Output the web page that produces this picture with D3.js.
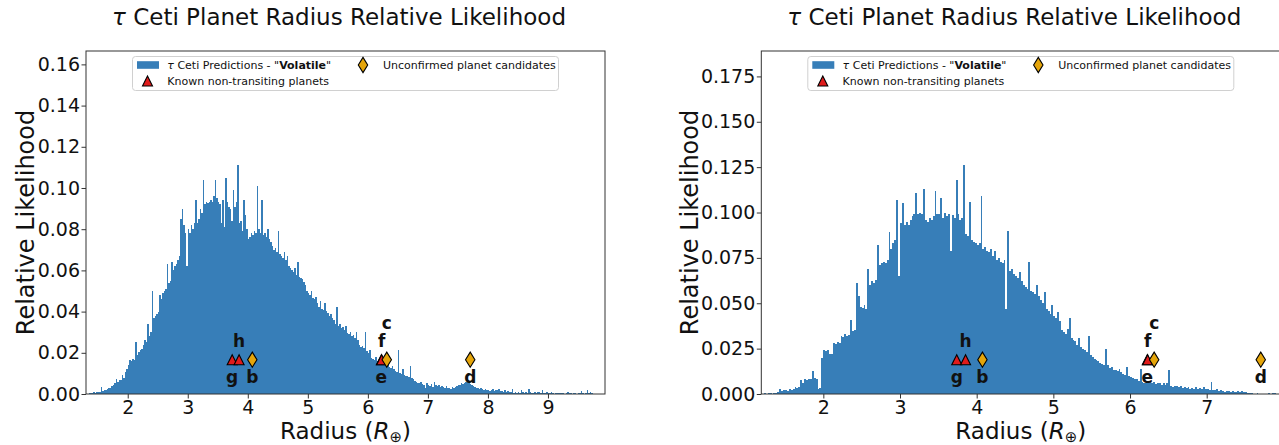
<!DOCTYPE html>
<html>
<head>
<meta charset="utf-8">
<script src="https://cdn.jsdelivr.net/npm/d3@7"></script>
<style>
  body { margin: 0; background: #fff; }
  svg { display: block; }
  text { font-family: "DejaVu Sans", sans-serif; fill: #111; }
</style>
</head>
<body>
<svg id="fig" width="1279" height="445"></svg>
<script>
// ---- histogram data: relative likelihood per radius bin ----
const binWidth = 0.025;

// left panel, first bin starts at R = 1.35
const leftBinStart = 1.35;
const leftLikelihood = [
  0.0004, 0.0006, 0.0003, 0.0008,  0.0007, 0.0010, 0.0009, 0.0012,
  0.0036, 0.0014, 0.0020, 0.0017,  0.0024, 0.0030, 0.0028, 0.0040,
  0.0044, 0.0052, 0.0073, 0.0058,  0.0066, 0.0070, 0.0092, 0.0079,
  0.0105, 0.0120, 0.0140, 0.0165,  0.0160, 0.0170, 0.0165, 0.0250,
  0.0190, 0.0205, 0.0215, 0.0220,  0.0240, 0.0260, 0.0250, 0.0340,
  0.0280, 0.0300, 0.0500, 0.0370,  0.0380, 0.0390, 0.0400, 0.0480,
  0.0460, 0.0490, 0.0500, 0.0510,  0.0630, 0.0540, 0.0550, 0.0640,
  0.0600, 0.0620, 0.0630, 0.0650,  0.0670, 0.0850, 0.0900, 0.0820,
  0.0780, 0.0620, 0.0800, 0.0780,  0.0820, 0.0800, 0.0830, 0.0940,
  0.0830, 0.0850, 0.0900, 0.0880,  0.1040, 0.0920, 0.0930, 0.0925,
  0.0930, 0.0940, 0.0930, 0.0960,  0.1040, 0.0950, 0.0930, 0.0920,
  0.0830, 0.0940, 0.0810, 0.1050,  0.0930, 0.0910, 0.0900, 0.0840,
  0.0990, 0.0910, 0.0930, 0.1110,  0.0830, 0.0840, 0.0790, 0.0940,
  0.0870, 0.0800, 0.0750, 0.0760,  0.0780, 0.0770, 0.0790, 0.0780,
  0.1010, 0.0800, 0.0780, 0.0940,  0.0770, 0.0780, 0.0760, 0.0800,
  0.0750, 0.0740, 0.0720, 0.0700,  0.0710, 0.0690, 0.0790, 0.0680,
  0.0670, 0.0660, 0.0690, 0.0650,  0.0670, 0.0620, 0.0610, 0.0600,
  0.0590, 0.0610, 0.0580, 0.0640,  0.0570, 0.0565, 0.0560, 0.0545,
  0.0530, 0.0500, 0.0490, 0.0480,  0.0500, 0.0465, 0.0460, 0.0470,
  0.0440, 0.0420, 0.0450, 0.0415,  0.0410, 0.0440, 0.0405, 0.0395,
  0.0380, 0.0390, 0.0370, 0.0360,  0.0340, 0.0420, 0.0330, 0.0340,
  0.0320, 0.0325, 0.0310, 0.0330,  0.0295, 0.0290, 0.0300, 0.0280,
  0.0285, 0.0270, 0.0300, 0.0260,  0.0240, 0.0230, 0.0235, 0.0225,
  0.0300, 0.0210, 0.0200, 0.0215,  0.0175, 0.0170, 0.0165, 0.0180,
  0.0160, 0.0155, 0.0150, 0.0158,  0.0150, 0.0145, 0.0140, 0.0152,
  0.0130, 0.0125, 0.0135, 0.0120,  0.0110, 0.0105, 0.0215, 0.0100,
  0.0095, 0.0120, 0.0090, 0.0088,  0.0085, 0.0082, 0.0135, 0.0078,
  0.0072, 0.0065, 0.0060, 0.0055,  0.0052, 0.0058, 0.0048, 0.0045,
  0.0030, 0.0055, 0.0045, 0.0040,  0.0048, 0.0035, 0.0060, 0.0042,
  0.0038, 0.0045, 0.0032, 0.0040,  0.0035, 0.0030, 0.0040, 0.0028,
  0.0030, 0.0025, 0.0032, 0.0028,  0.0035, 0.0040, 0.0045, 0.0042,
  0.0055, 0.0048, 0.0052, 0.0060,  0.0058, 0.0065, 0.0050, 0.0045,
  0.0040, 0.0035, 0.0028, 0.0030,  0.0025, 0.0030, 0.0022, 0.0020,
  0.0024, 0.0018, 0.0020, 0.0016,  0.0018, 0.0022, 0.0015, 0.0017,
  0.0020, 0.0024, 0.0014, 0.0016,  0.0012, 0.0018, 0.0010, 0.0013,
  0.0008, 0.0010, 0.0022, 0.0006,  0.0009, 0.0007, 0.0012, 0.0005,
  0.0020, 0.0008, 0.0004, 0.0010,  0.0006, 0.0024, 0.0009, 0.0005,
  0.0007, 0.0010, 0.0004, 0.0008,  0.0012, 0.0006, 0.0018, 0.0004,
  0.0005, 0.0009, 0.0003, 0.0006,  0.0008, 0.0004, 0.0002, 0.0007,
  0.0004, 0.0006, 0.0003, 0.0005,  0.0007, 0.0002, 0.0004, 0.0012,
  0.0003, 0.0005, 0.0002, 0.0004,  0.0003, 0.0002, 0.0004, 0.0003,
  0.0016, 0.0003, 0.0002, 0.0004,  0.0018, 0.0006, 0.0010, 0.0003
];

// right panel, first bin starts at R = 1.20
const rightBinStart = 1.20;
const rightLikelihood = [
  0.0000, 0.0004, 0.0000, 0.0003,  0.0006, 0.0002, 0.0005, 0.0008,
  0.0010, 0.0025, 0.0018, 0.0022,  0.0024, 0.0018, 0.0026, 0.0022,
  0.0030, 0.0040, 0.0033, 0.0038,  0.0075, 0.0060, 0.0085, 0.0078,
  0.0080, 0.0082, 0.0125, 0.0090,  0.0085, 0.0030, 0.0032, 0.0200,
  0.0245, 0.0235, 0.0240, 0.0220,  0.0222, 0.0280, 0.0275, 0.0285,
  0.0280, 0.0320, 0.0315, 0.0330,  0.0320, 0.0325, 0.0410, 0.0345,
  0.0350, 0.0610, 0.0540, 0.0480,  0.0475, 0.0490, 0.0470, 0.0690,
  0.0600, 0.0620, 0.0610, 0.0630,  0.0820, 0.0710, 0.0720, 0.0730,
  0.0720, 0.0740, 0.0890, 0.0800,  0.0830, 0.0850, 0.1070, 0.0650,
  0.0940, 0.1050, 0.0930, 0.0950,  0.0930, 0.0960, 0.0980, 0.0990,
  0.1110, 0.0990, 0.1000, 0.0990,  0.1130, 0.0960, 0.0950, 0.0970,
  0.0960, 0.0980, 0.1120, 0.0990,  0.0990, 0.1080, 0.0970, 0.1000,
  0.0980, 0.0990, 0.0790, 0.0985,  0.0970, 0.1180, 0.0990, 0.0960,
  0.0970, 0.1260, 0.0880, 0.0870,  0.1060, 0.0850, 0.0840, 0.0830,
  0.0820, 0.0830, 0.1090, 0.0800,  0.0810, 0.0790, 0.0780, 0.0800,
  0.0760, 0.0790, 0.0740, 0.0750,  0.0730, 0.0720, 0.0740, 0.0470,
  0.0900, 0.0680, 0.0690, 0.0660,  0.0650, 0.0640, 0.0670, 0.0620,
  0.0600, 0.0590, 0.0580, 0.0730,  0.0570, 0.0560, 0.0550, 0.0600,
  0.0540, 0.0520, 0.0500, 0.0560,  0.0470, 0.0460, 0.0440, 0.0490,
  0.0430, 0.0420, 0.0450, 0.0400,  0.0350, 0.0340, 0.0330, 0.0360,
  0.0420, 0.0310, 0.0300, 0.0290,  0.0270, 0.0310, 0.0260, 0.0250,
  0.0240, 0.0230, 0.0320, 0.0215,  0.0205, 0.0195, 0.0185, 0.0180,
  0.0170, 0.0165, 0.0160, 0.0250,  0.0160, 0.0145, 0.0150, 0.0135,
  0.0130, 0.0125, 0.0140, 0.0120,  0.0110, 0.0105, 0.0150, 0.0100,
  0.0095, 0.0090, 0.0085, 0.0080,  0.0070, 0.0140, 0.0065, 0.0060,
  0.0062, 0.0058, 0.0065, 0.0060,  0.0066, 0.0055, 0.0060, 0.0058,
  0.0052, 0.0060, 0.0050, 0.0058,  0.0134, 0.0045, 0.0040, 0.0046,
  0.0042, 0.0038, 0.0044, 0.0035,  0.0036, 0.0032, 0.0040, 0.0030,
  0.0034, 0.0030, 0.0038, 0.0028,  0.0032, 0.0026, 0.0036, 0.0030,
  0.0028, 0.0024, 0.0065, 0.0022,  0.0020, 0.0026, 0.0018, 0.0022,
  0.0016, 0.0012, 0.0018, 0.0014,  0.0012, 0.0015, 0.0010, 0.0013,
  0.0014, 0.0011, 0.0016, 0.0012,  0.0010, 0.0008, 0.0006, 0.0004,
  0.0002, 0.0000, 0.0003, 0.0001,  0.0000, 0.0000, 0.0002, 0.0000,
  0.0004, 0.0000, 0.0006, 0.0003
];

// axis limits and ticks
const leftXLimits = [1.305, 9.95];
const rightXLimits = [1.191, 7.960];
const leftXTicks = [2, 3, 4, 5, 6, 7, 8, 9];
const rightXTicks = [2, 3, 4, 5, 6, 7];
const leftYTicks = [0, 0.02, 0.04, 0.06, 0.08, 0.10, 0.12, 0.14, 0.16];
const rightYTicks = [0, 0.025, 0.05, 0.075, 0.10, 0.125, 0.15, 0.175];

// tau Ceti planets: radius, status and where the name goes
const planetNames  = ["g", "h", "b", "e", "f", "c", "d"];
const planetRadius = [3.74, 3.855, 4.075, 6.225, 6.23, 6.315, 7.705];
const planetStatus = ["known", "known", "candidate", "known", "known", "candidate", "candidate"];
const planetLabelSlot = [-1, 1, -1, -1, 1, 2, -1];   // -1 below, 1 above, 2 two lines above

const titleText = "Ceti Planet Radius Relative Likelihood";
const seriesColor = "#377eb8";
const knownColor = "#e01b1b";
const candidateColor = "#e5a50a";

// ---- layout ----
const fig = d3.select("#fig");
const AX_W = 519, AX_TOP = 51, AX_BOTTOM = 394;
const panels = [
  { left: 86, binStart: leftBinStart, values: leftLikelihood, xDomain: leftXLimits,
    xTicks: leftXTicks, yTicks: leftYTicks, yFormat: ".2f", yLabelGap: 52.4 },
  { left: 761.3, binStart: rightBinStart, values: rightLikelihood, xDomain: rightXLimits,
    xTicks: rightXTicks, yTicks: rightYTicks, yFormat: ".3f", yLabelGap: 63.7 }
];

const trianglePath = "M0,-5 L5,5 L-5,5 Z";
const diamondPath = "M0,-7.6 L4.7,0 L0,7.6 L-4.7,0 Z";

function styleAxisText(sel) {
  sel.selectAll("text").attr("font-size", 19).attr("font-family", "DejaVu Sans").attr("fill", "#111");
  sel.selectAll("line").attr("stroke", "#333").attr("stroke-width", 1);
  sel.select(".domain").remove();
}

panels.forEach((p, k) => {
  const g = fig.append("g");
  const x = d3.scaleLinear().domain(p.xDomain).range([p.left, p.left + AX_W]);
  const yMax = 1.5 * d3.max(p.values);
  const y = d3.scaleLinear().domain([0, yMax]).range([AX_BOTTOM, AX_TOP]);
  const cx = p.left + AX_W / 2;

  const clipId = "plotclip" + k;
  g.append("clipPath").attr("id", clipId).append("rect")
    .attr("x", p.left).attr("y", AX_TOP).attr("width", AX_W).attr("height", AX_BOTTOM - AX_TOP);

  // histogram bars
  const bins = p.values.map((v, i) => ({
    x0: p.binStart + i * binWidth, x1: p.binStart + (i + 1) * binWidth, v
  }));
  g.append("g").attr("clip-path", `url(#${clipId})`)
    .selectAll("rect").data(bins).join("rect")
    .attr("x", d => x(d.x0))
    .attr("width", d => x(d.x1) - x(d.x0))
    .attr("y", d => y(d.v))
    .attr("height", d => y(0) - y(d.v))
    .attr("fill", seriesColor)
    .attr("shape-rendering", "crispEdges");

  // axes
  g.append("g").attr("transform", `translate(0,${AX_BOTTOM})`)
    .call(d3.axisBottom(x).tickValues(p.xTicks).tickFormat(d3.format("d"))
      .tickSize(4.5).tickPadding(2.5).tickSizeOuter(0))
    .call(styleAxisText);
  g.append("g").attr("transform", `translate(${p.left},0)`)
    .call(d3.axisLeft(y).tickValues(p.yTicks).tickFormat(d3.format(p.yFormat))
      .tickSize(4.5).tickPadding(1.5).tickSizeOuter(0))
    .call(styleAxisText);

  // frame
  g.append("rect")
    .attr("x", p.left).attr("y", AX_TOP).attr("width", AX_W).attr("height", AX_BOTTOM - AX_TOP)
    .attr("fill", "none").attr("stroke", "#333").attr("stroke-width", 1);

  // planets
  const markerY = y(0.1 * yMax);
  const planets = planetNames.map((n, i) => ({
    name: n, r: planetRadius[i], status: planetStatus[i], slot: planetLabelSlot[i]
  }));
  g.append("g").attr("clip-path", `url(#${clipId})`)
    .selectAll("path").data(planets).join("path")
    .attr("transform", d => `translate(${x(d.r)},${markerY})`)
    .attr("d", d => d.status === "known" ? trianglePath : diamondPath)
    .attr("fill", d => d.status === "known" ? knownColor : candidateColor)
    .attr("stroke", "#000").attr("stroke-width", 1.1);
  const labelDy = { "-1": 23, "1": -13, "2": -30.5 };
  g.append("g").selectAll("text").data(planets).join("text")
    .attr("x", d => x(d.r))
    .attr("y", d => markerY + labelDy[d.slot])
    .attr("text-anchor", "middle")
    .attr("font-size", 17).attr("font-weight", "bold")
    .text(d => d.name);

  // title
  const title = g.append("text")
    .attr("x", p.left + 253).attr("y", 25)
    .attr("text-anchor", "middle").attr("font-size", 23);
  title.append("tspan").attr("font-style", "italic").text("τ");
  title.append("tspan").text(" " + titleText);

  // x label
  const xl = g.append("text").attr("x", cx).attr("y", 438.5)
    .attr("text-anchor", "middle").attr("font-size", 23);
  xl.append("tspan").text("Radius (");
  xl.append("tspan").attr("font-style", "italic").text("R");
  xl.append("tspan").attr("font-size", 15).attr("dy", 3.5).text("⊕");
  xl.append("tspan").attr("dy", -3.5).text(")");

  // y label
  g.append("text")
    .attr("transform", `translate(${p.left - p.yLabelGap},${(AX_TOP + AX_BOTTOM) / 2}) rotate(-90)`)
    .attr("text-anchor", "middle").attr("font-size", 24)
    .text("Relative Likelihood");

  // legend (upper center)
  const lg = g.append("g").attr("transform", `translate(${cx - 213},56.5)`);
  lg.append("rect").attr("width", 426).attr("height", 34).attr("rx", 3)
    .attr("fill", "#fff").attr("fill-opacity", 0.85)
    .attr("stroke", "#d0d0d0").attr("stroke-width", 1);
  lg.append("rect").attr("x", 4.5).attr("y", 4.7).attr("width", 22).attr("height", 7.6)
    .attr("fill", seriesColor);
  const t1 = lg.append("text").attr("x", 34.8).attr("y", 12.6).attr("font-size", 11);
  t1.append("tspan").attr("font-style", "italic").text("τ");
  t1.append("tspan").text(" Ceti Predictions - \"");
  t1.append("tspan").attr("font-weight", "bold").text("Volatile");
  t1.append("tspan").text("\"");
  lg.append("path").attr("transform", "translate(15,24.5)").attr("d", trianglePath)
    .attr("fill", knownColor).attr("stroke", "#000").attr("stroke-width", 1.1);
  lg.append("text").attr("x", 34.8).attr("y", 28.6).attr("font-size", 11)
    .text("Known non-transiting planets");
  lg.append("path").attr("transform", "translate(230.5,8.5)").attr("d", diamondPath)
    .attr("fill", candidateColor).attr("stroke", "#000").attr("stroke-width", 1.1);
  lg.append("text").attr("x", 250.5).attr("y", 12.6).attr("font-size", 11)
    .text("Unconfirmed planet candidates");
});
</script>
</body>
</html>
